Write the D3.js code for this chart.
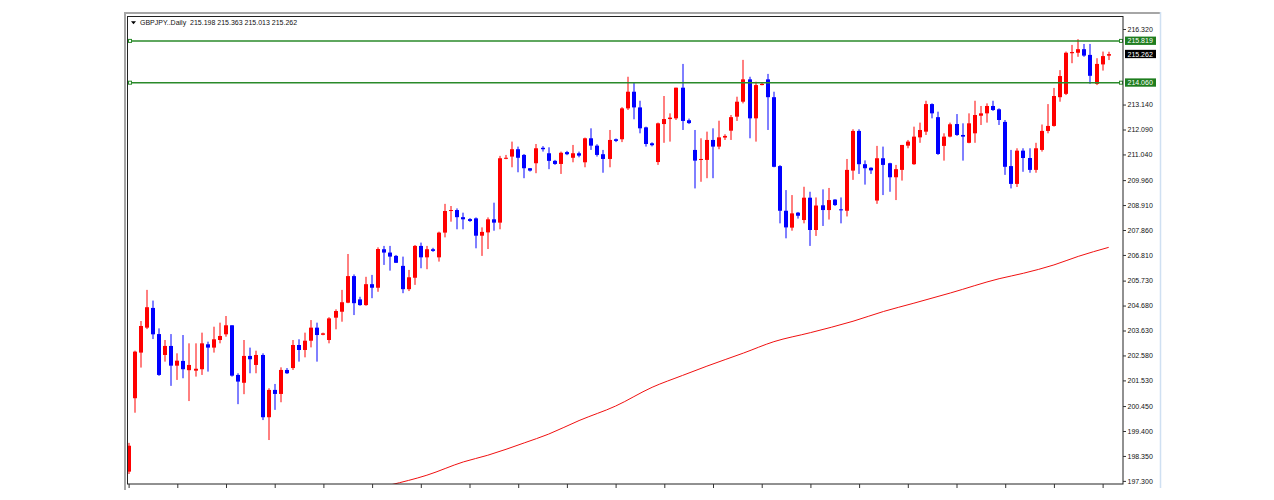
<!DOCTYPE html>
<html lang="fr">
<head>
<meta charset="utf-8">
<title>GBPJPY Daily</title>
<script src="https://cdn.jsdelivr.net/npm/d3@7"></script>
<style>
  html, body { margin: 0; padding: 0; background: #fff; }
  svg { display: block; font-family: "Liberation Sans", Arial, sans-serif; }
</style>
</head>
<body>
<svg id="graphe" width="1274" height="500"></svg>
<script>
// DONNÉES
const titre = 'GBPJPY..Daily'
const ouvertures = [
  197.69, 200.78, 202.70, 203.75, 204.58, 203.48, 202.60, 202.98, 202.15, 202.35,
  201.96, 201.94, 202.00, 203.05, 202.91, 203.23, 203.47, 203.85, 201.76, 201.43,
  202.56, 202.18, 202.60, 199.98, 201.13, 200.96, 201.97, 202.05, 203.02, 202.81,
  203.20, 203.75, 203.45, 203.23, 204.17, 204.42, 204.80, 205.92, 204.94, 204.70,
  205.58, 205.43, 207.05, 206.91, 206.77, 206.35, 205.37, 205.85, 207.19, 206.71,
  207.05, 206.71, 207.75, 208.66, 208.70, 208.40, 208.32, 208.35, 207.62, 207.76,
  208.31, 208.17, 210.86, 210.95, 211.26, 211.02, 210.46, 210.67, 211.32, 211.09,
  210.77, 210.64, 211.14, 210.90, 211.09, 210.71, 211.72, 211.41, 211.05, 210.85,
  211.68, 211.68, 212.98, 213.68, 213.02, 212.18, 211.51, 210.72, 212.32, 212.53,
  212.56, 213.85, 212.48, 211.23, 210.81, 210.81, 211.65, 211.37, 211.75, 212.04,
  212.63, 213.26, 214.20, 212.56, 213.96, 214.20, 213.45, 210.55, 208.67, 207.96,
  208.59, 208.28, 209.22, 207.86, 208.90, 208.70, 209.14, 208.73, 208.67, 210.36,
  212.03, 210.63, 210.48, 209.10, 210.88, 210.67, 210.08, 210.39, 211.41, 210.63,
  211.76, 212.00, 213.16, 212.61, 211.40, 211.79, 212.32, 211.86, 211.53, 211.93,
  212.67, 212.77, 213.08, 212.94, 212.41, 210.55, 209.80, 211.20, 210.89, 210.39,
  211.23, 212.03, 212.24, 213.45, 213.59, 215.30, 215.32, 215.47, 215.23, 214.01,
  214.83, 215.198
]
const hauts = [
  198.90, 202.78, 204.03, 205.34, 204.89, 203.72, 203.23, 203.48, 202.67, 203.44,
  203.09, 203.09, 203.54, 203.16, 203.79, 203.96, 204.24, 203.85, 201.83, 203.23,
  202.91, 202.78, 202.67, 201.20, 201.38, 202.08, 202.05, 203.23, 203.26, 203.54,
  204.07, 203.96, 203.54, 204.19, 204.52, 205.34, 206.85, 205.99, 205.05, 205.89,
  205.97, 207.13, 207.19, 207.19, 206.81, 206.74, 206.18, 207.23, 207.33, 207.19,
  207.11, 207.79, 208.96, 208.87, 208.77, 208.59, 208.36, 208.39, 207.97, 208.39,
  209.01, 210.98, 211.02, 211.58, 211.37, 211.06, 210.47, 211.48, 211.39, 211.34,
  210.81, 211.16, 211.19, 211.44, 211.16, 211.75, 212.14, 211.47, 211.23, 212.07,
  211.71, 213.03, 214.31, 214.06, 213.30, 212.21, 211.55, 212.38, 213.50, 212.77,
  213.85, 214.85, 212.55, 212.07, 211.72, 212.00, 212.14, 212.46, 211.89, 212.70,
  213.47, 215.02, 214.31, 214.10, 214.06, 214.43, 213.68, 210.59, 209.54, 209.33,
  208.62, 209.68, 209.47, 209.23, 209.57, 209.63, 209.16, 209.23, 210.85, 212.10,
  212.10, 210.79, 210.50, 211.40, 211.37, 210.69, 210.60, 211.44, 211.65, 212.21,
  212.38, 213.30, 213.19, 212.84, 211.93, 212.38, 212.74, 212.35, 212.77, 213.30,
  213.08, 213.19, 213.30, 212.98, 212.49, 211.23, 211.30, 211.30, 211.30, 211.53,
  212.30, 213.16, 213.84, 214.59, 215.37, 215.65, 215.89, 215.69, 215.69, 215.09,
  215.37, 215.363
]
const bas = [
  197.59, 200.17, 202.07, 203.69, 203.27, 201.72, 202.32, 201.30, 201.55, 201.62,
  200.66, 201.69, 201.76, 201.90, 202.70, 203.09, 203.37, 201.69, 200.53, 200.95,
  201.83, 201.83, 199.86, 199.02, 200.29, 200.61, 201.80, 201.97, 202.32, 202.50,
  202.92, 202.32, 203.43, 203.09, 203.68, 204.00, 204.78, 204.28, 204.67, 204.67,
  204.99, 205.26, 206.39, 206.15, 206.47, 205.20, 205.29, 205.55, 206.25, 206.21,
  206.94, 206.53, 207.55, 208.21, 207.89, 207.89, 208.20, 207.09, 206.77, 207.06,
  207.83, 207.89, 210.84, 210.50, 210.29, 210.04, 210.32, 210.25, 211.16, 210.42,
  210.60, 210.22, 211.01, 210.71, 210.92, 210.50, 211.23, 210.95, 210.27, 210.50,
  211.56, 211.56, 212.91, 212.52, 211.93, 211.37, 211.38, 210.60, 211.53, 211.58,
  212.49, 212.07, 212.32, 209.61, 209.89, 210.04, 210.04, 211.26, 211.65, 211.65,
  212.45, 213.19, 211.72, 211.58, 213.95, 212.07, 210.50, 208.14, 207.51, 207.83,
  208.34, 208.14, 207.19, 207.61, 208.03, 208.30, 208.87, 208.14, 208.43, 209.97,
  210.22, 209.77, 210.22, 208.96, 209.33, 209.47, 209.12, 209.94, 211.30, 210.60,
  211.53, 211.86, 212.56, 211.02, 210.78, 211.76, 211.82, 210.78, 211.51, 211.53,
  212.28, 212.38, 212.87, 212.28, 210.18, 209.61, 209.67, 210.31, 210.27, 210.27,
  211.16, 211.93, 212.21, 213.26, 213.54, 214.88, 215.15, 215.15, 214.01, 213.96,
  214.57, 215.013
]
const clotures = [
  198.78, 202.74, 203.82, 204.61, 203.47, 201.76, 202.98, 202.15, 202.36, 202.00,
  202.18, 202.02, 203.09, 202.91, 203.26, 203.40, 203.85, 201.73, 201.48, 202.56,
  202.42, 202.60, 199.98, 201.13, 200.96, 201.97, 201.83, 203.02, 202.81, 203.20,
  203.75, 203.44, 203.51, 204.14, 204.45, 204.82, 205.92, 204.78, 204.70, 205.58,
  205.43, 207.06, 206.91, 206.74, 206.48, 205.37, 205.87, 207.19, 206.71, 207.05,
  206.98, 207.75, 208.66, 208.70, 208.40, 208.31, 208.24, 207.62, 207.78, 208.31,
  208.17, 210.88, 210.90, 211.26, 210.90, 210.46, 210.36, 211.30, 211.26, 210.77,
  210.64, 211.11, 211.05, 211.09, 210.99, 211.72, 211.41, 211.02, 210.85, 211.65,
  211.61, 212.98, 213.68, 213.02, 212.14, 211.48, 211.43, 212.35, 212.53, 212.59,
  213.85, 212.45, 212.36, 210.78, 210.85, 211.65, 211.37, 211.76, 211.82, 212.61,
  213.26, 214.20, 212.56, 213.96, 214.01, 213.45, 210.52, 208.67, 207.97, 208.56,
  208.46, 209.22, 207.86, 208.89, 208.70, 209.12, 208.91, 208.69, 210.39, 212.03,
  210.63, 210.46, 210.37, 210.88, 210.60, 210.08, 210.42, 211.44, 211.58, 211.79,
  212.07, 213.16, 212.77, 211.06, 211.79, 212.31, 211.86, 211.79, 212.35, 212.70,
  212.77, 213.08, 212.91, 212.49, 210.52, 209.80, 211.20, 210.89, 210.39, 211.30,
  212.03, 212.24, 213.50, 214.34, 215.32, 215.35, 215.47, 215.20, 214.35, 214.85,
  215.18, 215.262
]
const indicesMoyenne = [43, 49, 55, 59, 65, 69, 74, 80, 86, 91, 95, 101, 106, 112, 119, 124, 129, 135, 143, 147, 152, 156, 161]
const valeursMoyenne = [197.13, 197.54, 198.10, 198.38, 198.90, 199.27, 199.84, 200.45, 201.24, 201.74, 202.13, 202.68, 203.16, 203.54, 204.02, 204.43, 204.78, 205.21, 205.81, 206.04, 206.39, 206.75, 207.13]
const graduationsPrix = [216.320, 213.140, 212.090, 211.040, 209.960, 208.910, 207.860, 206.810, 205.730, 204.680, 203.630, 202.580, 201.530, 200.450, 199.400, 198.350, 197.300]
const niveaux = [215.819, 214.060]
const pasGraduationTemps = 8

/**
 * On dessine le graphique en chandeliers façon MT4.
 */
function dessinerGraphe(){
    const svg = d3.select('#graphe')
    const n = ouvertures.length
    const derniere = n - 1

    // cadre du graphique
    const gauche = 127.5, droite = 1123, haut = 16.5, basCadre = 484

    const x = d3.scaleLinear().domain([0, derniere]).range([128.6, 1108.7])
    const y = d3.scaleLinear().domain([197.300, 216.320]).range([480.9, 29])

    svg.append('rect').attr('width', 1274).attr('height', 500).attr('fill', '#fff')

    // Fenêtre : bordure grise et ligne bleu clair à droite
    svg.append('rect').attr('x', 124).attr('y', 12).attr('width', 1036).attr('height', 2).attr('fill', '#a6a6a6')
    svg.append('rect').attr('x', 124).attr('y', 12).attr('width', 2).attr('height', 478).attr('fill', '#a6a6a6')
    svg.append('line')
        .attr('x1', 1160.5).attr('x2', 1160.5).attr('y1', 12).attr('y2', 488)
        .style('stroke', '#cfe0f2').style('stroke-width', 1.5)

    // Zone de tracé découpée
    svg.append('clipPath').attr('id', 'zone')
        .append('rect').attr('x', gauche + 0.5).attr('y', haut + 0.5)
        .attr('width', droite - gauche - 0.5).attr('height', basCadre - haut - 0.5)

    const trace = svg.append('g').attr('clip-path', 'url(#zone)')

    // Moyenne mobile
    const points = indicesMoyenne.map((d, k) => [d, valeursMoyenne[k]])
    trace.append('path')
        .datum(points)
        .attr('fill', 'none')
        .style('stroke', '#f01010')
        .style('stroke-width', 1)
        .attr('d', d3.line().x(d => x(d[0])).y(d => y(d[1])).curve(d3.curveMonotoneX))

    // Bougies
    const bougies = trace.selectAll('g.bougie')
        .data(d3.range(n))
        .join('g')
        .attr('class', 'bougie')
    const couleur = i => clotures[i] > ouvertures[i] ? '#ff0000' : '#0000ff'
    bougies.append('line')
        .attr('x1', i => Math.round(x(i))).attr('x2', i => Math.round(x(i)))
        .attr('y1', i => y(hauts[i])).attr('y2', i => y(bas[i]))
        .style('stroke', couleur).style('stroke-width', 1)
    bougies.append('rect')
        .attr('x', i => Math.round(x(i)) - 2)
        .attr('width', 4)
        .attr('y', i => y(Math.max(ouvertures[i], clotures[i])))
        .attr('height', i => Math.max(1, Math.abs(y(ouvertures[i]) - y(clotures[i]))))
        .attr('fill', couleur)

    // Lignes horizontales vertes
    const vert = '#2a8a2a'
    niveaux.forEach(v => {
        svg.append('line')
            .attr('x1', gauche).attr('x2', droite)
            .attr('y1', y(v)).attr('y2', y(v))
            .style('stroke', vert).style('stroke-width', 1.5)
        ;[gauche + 2.5, droite - 2].forEach(px => {
            svg.append('rect')
                .attr('x', px - 1.5).attr('y', y(v) - 1.5)
                .attr('width', 3).attr('height', 3)
                .attr('fill', '#fff').style('stroke', vert).style('stroke-width', 1)
        })
    })

    // Cadre noir
    svg.append('rect')
        .attr('x', gauche).attr('y', haut)
        .attr('width', droite - gauche).attr('height', basCadre - haut)
        .attr('fill', 'none').style('stroke', '#222').style('stroke-width', 1)

    // Axe des prix
    const axePrix = svg.append('g')
        .attr('transform', `translate(${droite},0)`)
        .call(d3.axisRight(y).tickValues(graduationsPrix).tickSize(3).tickPadding(1.5).tickFormat(d3.format('.3f')))
    axePrix.select('.domain').remove()
    axePrix.selectAll('text').attr('font-size', 7).attr('font-family', '"Liberation Sans", Arial, sans-serif').attr('fill', '#111')
    axePrix.selectAll('line').style('stroke', '#333')

    // Axe du temps (graduations seules)
    const axeTemps = svg.append('g')
        .attr('transform', `translate(0,${basCadre})`)
        .call(d3.axisBottom(x).tickValues(d3.range(0, n, pasGraduationTemps)).tickSize(4).tickFormat(''))
    axeTemps.select('.domain').remove()
    axeTemps.selectAll('line').style('stroke', '#333')

    // Étiquettes de prix sur l'axe
    const etiquette = (v, fond) => {
        svg.append('rect')
            .attr('x', droite + 2).attr('y', y(v) - 4.3)
            .attr('width', 31).attr('height', 8.3)
            .attr('fill', fond)
        svg.append('text')
            .attr('x', droite + 4.5).attr('y', y(v))
            .attr('dy', '0.34em')
            .attr('font-size', 7).attr('fill', '#fff')
            .text(d3.format('.3f')(v))
    }
    niveaux.forEach(v => etiquette(v, '#1e7d1e'))
    etiquette(clotures[derniere], '#000')

    // En-tête
    svg.append('path').attr('d', 'M131,21.2 L136,21.2 L133.5,24.2 Z').attr('fill', '#000')
    svg.append('text')
        .attr('x', 140).attr('y', 25.3)
        .attr('font-size', 7).attr('fill', '#111')
        .style('white-space', 'pre')
        .text(titre + '  ' + [ouvertures[derniere], hauts[derniere], bas[derniere], clotures[derniere]].map(d3.format('.3f')).join(' '))
}

dessinerGraphe()
</script>
</body>
</html>
